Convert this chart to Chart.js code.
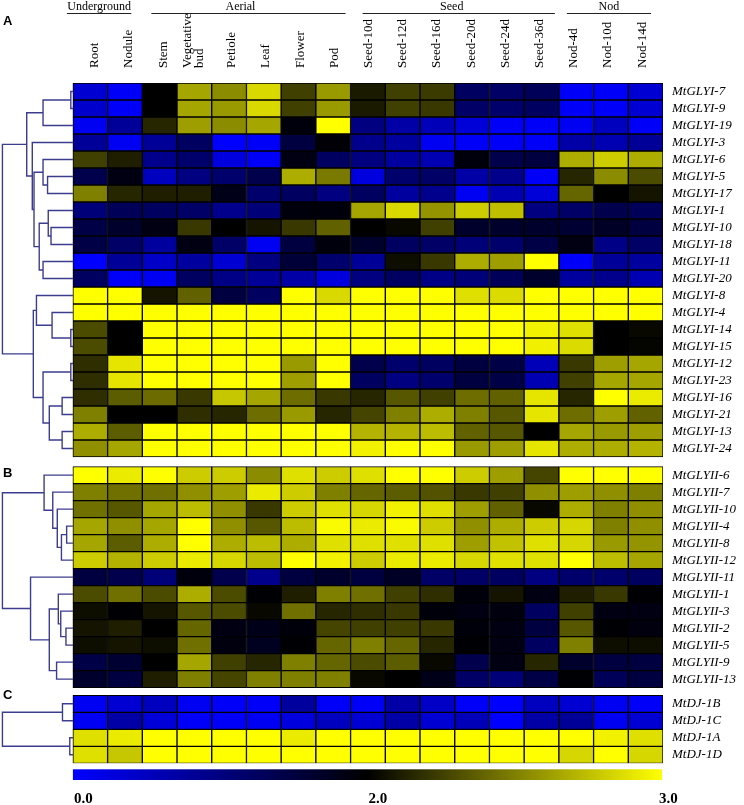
<!DOCTYPE html>
<html>
<head>
<meta charset="utf-8">
<script src="https://cdn.jsdelivr.net/npm/chart.js@4.4.0/dist/chart.umd.min.js"></script>
<style>
  body { margin: 0; background: #fff; }
  #wrap { width: 744px; height: 805px; }
</style>
</head>
<body>
<div id="wrap"><canvas id="heat" width="744" height="805"></canvas></div>
<script>
// ---- data ----
const tissues = ['Root', 'Nodule', 'Stem', ['Vegetative', 'bud'], 'Petiole', 'Leaf', 'Flower', 'Pod',
  'Seed-10d', 'Seed-12d', 'Seed-16d', 'Seed-20d', 'Seed-24d', 'Seed-36d', 'Nod-4d', 'Nod-10d', 'Nod-14d'];
const tissueGroups = [['Underground', 0, 1], ['Aerial', 2, 7], ['Seed', 8, 13], ['Nod', 14, 16]];

const genesA = ['MtGLYI-7', 'MtGLYI-9', 'MtGLYI-19', 'MtGLYI-3', 'MtGLYI-6', 'MtGLYI-5', 'MtGLYI-17',
  'MtGLYI-1', 'MtGLYI-10', 'MtGLYI-18', 'MtGLYI-11', 'MtGLYI-20', 'MtGLYI-8', 'MtGLYI-4', 'MtGLYI-14',
  'MtGLYI-15', 'MtGLYI-12', 'MtGLYI-23', 'MtGLYI-16', 'MtGLYI-21', 'MtGLYI-13', 'MtGLYI-24'];
const valuesA = [
  [0.35, 0.05, 2.0, 2.65, 2.55, 2.85, 2.25, 2.6, 2.1, 2.25, 2.23, 1.25, 1.2, 1.3, 0.05, 0.05, 0.35],
  [0.4, 0.05, 2.0, 2.65, 2.6, 2.85, 2.25, 2.6, 2.1, 2.25, 2.22, 1.2, 1.15, 1.25, 0.05, 0.05, 0.35],
  [0.1, 0.8, 2.15, 2.62, 2.55, 2.65, 1.9, 3.0, 1.0, 0.7, 0.55, 0.3, 0.05, 0.05, 0.1, 0.5, 0.05],
  [0.8, 0.1, 0.8, 1.25, 0.0, 0.05, 1.5, 1.95, 0.9, 0.75, 0.1, 0.05, 0.05, 0.05, 0.7, 0.6, 0.8],
  [2.25, 2.12, 0.9, 1.15, 0.25, 0.05, 1.85, 1.25, 1.0, 0.75, 0.6, 1.9, 1.4, 1.5, 2.68, 2.8, 2.68],
  [1.4, 1.85, 0.5, 1.0, 1.15, 1.4, 2.68, 2.48, 0.25, 1.15, 1.2, 0.7, 0.9, 0.05, 2.15, 2.55, 2.3],
  [2.5, 2.15, 2.12, 2.12, 1.8, 1.15, 1.25, 1.0, 1.25, 0.75, 0.9, 0.1, 0.6, 0.3, 2.4, 2.0, 2.08],
  [1.05, 1.3, 1.25, 1.2, 0.9, 1.05, 1.9, 1.9, 2.65, 2.85, 2.58, 2.8, 2.75, 1.0, 1.2, 1.4, 1.3],
  [1.45, 1.65, 1.85, 2.22, 2.0, 2.08, 2.22, 2.38, 2.0, 2.03, 2.25, 1.65, 1.65, 1.65, 1.6, 1.7, 1.5],
  [1.45, 1.2, 0.75, 1.85, 1.2, 0.1, 1.5, 1.9, 1.65, 1.25, 1.2, 1.05, 1.15, 1.45, 1.85, 0.95, 1.2],
  [0.0, 0.8, 0.45, 0.75, 0.35, 1.0, 1.55, 1.15, 0.8, 2.05, 2.22, 2.68, 2.62, 3.0, 0.05, 0.8, 0.75],
  [1.25, 0.05, 0.1, 1.25, 0.95, 0.8, 0.7, 0.25, 1.0, 1.25, 0.95, 1.05, 1.3, 1.65, 0.75, 0.9, 0.6],
  [3.0, 3.0, 2.08, 2.38, 1.5, 1.25, 3.0, 2.85, 3.0, 3.0, 3.0, 2.88, 2.86, 3.0, 3.0, 3.0, 3.0],
  [3.0, 3.0, 3.0, 3.0, 3.0, 3.0, 3.0, 3.0, 3.0, 3.0, 3.0, 3.0, 3.0, 3.0, 3.0, 3.0, 3.0],
  [2.3, 2.0, 3.0, 3.0, 3.0, 3.0, 3.0, 3.0, 3.0, 3.0, 3.0, 3.0, 3.0, 2.95, 2.88, 2.0, 2.03],
  [2.3, 2.0, 3.0, 3.0, 3.0, 3.0, 3.0, 3.0, 3.0, 3.0, 3.0, 3.0, 3.0, 2.94, 2.86, 2.0, 2.02],
  [2.18, 2.9, 3.0, 3.0, 3.0, 3.0, 2.6, 3.0, 1.4, 1.15, 1.25, 1.5, 1.45, 0.55, 2.22, 2.62, 2.65],
  [2.18, 2.9, 3.0, 3.0, 3.0, 3.0, 2.62, 3.0, 1.25, 1.0, 1.15, 1.5, 1.45, 0.6, 2.25, 2.65, 2.65],
  [2.18, 2.36, 2.42, 2.22, 2.78, 2.65, 2.43, 2.22, 2.15, 2.34, 2.25, 2.43, 2.38, 2.9, 2.15, 3.0, 2.92],
  [2.5, 2.0, 2.0, 2.18, 2.15, 2.43, 2.6, 2.15, 2.27, 2.5, 2.68, 2.5, 2.34, 2.9, 2.43, 2.62, 2.38],
  [2.68, 2.36, 3.0, 3.0, 3.0, 3.0, 3.0, 3.0, 2.7, 2.7, 2.74, 2.38, 2.34, 2.0, 2.65, 2.6, 2.62],
  [2.56, 2.65, 3.0, 3.0, 3.0, 3.0, 3.0, 3.0, 2.95, 3.0, 3.0, 2.6, 2.62, 2.9, 2.68, 2.68, 2.7]
];

const genesB = ['MtGLYII-6', 'MtGLYII-7', 'MtGLYII-10', 'MtGLYII-4', 'MtGLYII-8', 'MtGLYII-12',
  'MtGLYII-11', 'MtGLYII-1', 'MtGLYII-3', 'MtGLYII-2', 'MtGLYII-5', 'MtGLYII-9', 'MtGLYII-13'];
const valuesB = [
  [3.0, 2.92, 3.0, 2.8, 2.8, 2.55, 2.88, 2.8, 2.88, 3.0, 3.0, 2.8, 2.62, 2.27, 3.0, 3.0, 3.0],
  [2.5, 2.44, 2.44, 2.56, 2.62, 2.92, 2.8, 2.5, 2.4, 2.36, 2.32, 2.22, 2.25, 2.56, 2.62, 2.56, 2.5],
  [2.44, 2.34, 2.65, 2.74, 2.56, 2.22, 2.8, 2.88, 2.84, 2.95, 2.88, 2.62, 2.38, 2.03, 2.68, 2.5, 2.56],
  [2.65, 2.56, 2.65, 3.0, 2.56, 2.34, 2.74, 2.98, 2.92, 2.98, 2.8, 2.56, 2.68, 2.8, 2.84, 2.5, 2.56],
  [2.65, 2.36, 2.68, 3.0, 2.68, 2.74, 2.68, 2.88, 2.88, 2.88, 2.88, 2.62, 2.76, 2.88, 2.84, 2.6, 2.58],
  [2.8, 2.7, 2.8, 2.92, 2.84, 2.74, 3.0, 2.95, 2.8, 2.92, 2.92, 2.84, 2.88, 2.88, 3.0, 2.74, 2.65],
  [1.5, 1.4, 1.05, 1.9, 1.4, 0.9, 1.5, 1.65, 1.5, 1.7, 1.2, 1.2, 1.25, 1.0, 1.15, 1.15, 1.25],
  [2.3, 2.44, 2.3, 2.68, 2.3, 1.97, 2.12, 2.5, 2.44, 2.25, 2.18, 1.92, 2.08, 1.85, 2.12, 2.22, 1.97],
  [2.05, 1.97, 2.08, 2.34, 2.3, 2.03, 2.44, 2.15, 2.18, 2.22, 1.92, 1.85, 1.88, 1.25, 2.25, 1.85, 1.85],
  [2.08, 2.12, 2.0, 2.4, 1.85, 1.8, 1.92, 2.27, 2.25, 2.25, 2.22, 1.92, 1.85, 1.5, 2.34, 1.97, 1.88],
  [2.05, 2.08, 2.05, 2.44, 1.88, 1.75, 1.97, 2.4, 2.5, 2.4, 2.15, 1.97, 1.85, 1.25, 2.5, 2.05, 2.05],
  [1.45, 1.6, 2.0, 2.65, 2.25, 2.15, 2.5, 2.4, 2.3, 2.36, 2.03, 1.4, 1.85, 2.15, 1.65, 1.5, 1.5],
  [1.65, 1.5, 2.12, 2.5, 2.27, 2.5, 2.5, 2.5, 2.03, 2.0, 1.8, 1.2, 1.05, 1.45, 1.97, 1.3, 1.5]
];

const genesC = ['MtDJ-1B', 'MtDJ-1C', 'MtDJ-1A', 'MtDJ-1D'];
const valuesC = [
  [0.1, 0.35, 0.5, 0.1, 0.05, 0.05, 0.75, 0.05, 0.05, 0.7, 0.45, 0.05, 0.0, 0.5, 0.35, 0.1, 0.05],
  [0.1, 0.7, 0.3, 0.05, 0.05, 0.1, 0.25, 0.5, 0.35, 0.7, 0.35, 0.55, 0.0, 0.7, 0.8, 0.1, 0.35],
  [2.88, 2.92, 3.0, 3.0, 3.0, 3.0, 2.92, 3.0, 3.0, 3.0, 3.0, 3.0, 3.0, 3.0, 3.0, 2.95, 2.88],
  [2.88, 2.78, 3.0, 3.0, 3.0, 3.0, 3.0, 3.0, 3.0, 3.0, 3.0, 3.0, 3.0, 3.0, 2.84, 3.0, 2.84]
];

// dendrograms: [left, right, mergeHeight], leaves are gene names
const treeA = [
  [[['MtGLYI-7', 'MtGLYI-9', 0.06], 'MtGLYI-19', 0.86],
   ['MtGLYI-3',
    [['MtGLYI-6', ['MtGLYI-5', 'MtGLYI-17', 0.73], 0.86],
     [['MtGLYI-1', ['MtGLYI-10', 'MtGLYI-18', 0.63], 0.71], ['MtGLYI-11', 'MtGLYI-20', 0.86], 0.97],
     1.12],
    1.17],
   1.33],
  [['MtGLYI-8', ['MtGLYI-4', ['MtGLYI-14', 'MtGLYI-15', 0.06], 0.6], 1.05],
   [['MtGLYI-12', 'MtGLYI-23', 0.06],
    [['MtGLYI-16', 'MtGLYI-21', 0.31], ['MtGLYI-13', 'MtGLYI-24', 0.31], 0.68], 0.86],
   1.14],
  2.03];
const treeB = [
  ['MtGLYII-6', ['MtGLYII-7', ['MtGLYII-10', [['MtGLYII-4', 'MtGLYII-8', 0.18], 'MtGLYII-12', 0.33], 0.45], 0.58], 0.83],
  ['MtGLYII-11', [['MtGLYII-1', ['MtGLYII-3', ['MtGLYII-2', 'MtGLYII-5', 0.2], 0.35], 0.42],
    ['MtGLYII-9', 'MtGLYII-13', 0.47], 0.68], 1.22],
  2.03];
const treeC = [['MtDJ-1B', 'MtDJ-1C', 0.3], ['MtDJ-1A', 'MtDJ-1D', 0.09], 2.03];

// colour scale: value stops and their tick labels
const scaleStops = [0, 2, 3];
const scaleTicks = ['0.0', '2.0', '3.0'];

// ---- layout ----
const panels = [
  { letter: 'A', genes: genesA, values: valuesA, tree: treeA },
  { letter: 'B', genes: genesB, values: valuesB, tree: treeB },
  { letter: 'C', genes: genesC, values: valuesC, tree: treeC }
];
const PANEL_GAP = [0, 0.57, 0.45];          // in row units
const PANEL_LETTER_Y = [25, 477, 699];
const DENDRO_SPAN = 2.1;                    // distance units shown left of cells
const GROUP_INSET = [[-6, -11], [9, -5], [12, -4], [8, -12]];
const GROUP_TEXT_DX = [0, -8, -7, 0];
const SERIF = '"Liberation Serif", "Times New Roman", serif';

function heatColor(v) {
  if (v <= 2) {
    const b = Math.round(255 * (1 - v / 2));
    return `rgb(0,0,${b})`;
  }
  const c = Math.round(255 * Math.min(1, v - 2));
  return `rgb(${c},${c},0)`;
}

const rowTop = {};
let cursor = 0;
panels.forEach((p, i) => {
  cursor += PANEL_GAP[i];
  p.top = cursor;
  p.genes.forEach((g, r) => { rowTop[g] = cursor + r; });
  cursor += p.genes.length;
});
const yMax = cursor;

const datasets = [];
panels.forEach(p => {
  p.values.forEach((row, r) => {
    datasets.push({
      type: 'bar',
      label: p.genes[r],
      data: row.map((v, c) => ({ x: c + 0.5, y: [p.top + r, p.top + r + 1] })),
      backgroundColor: row.map(heatColor),
      borderColor: '#000',
      borderWidth: 1,
      borderSkipped: false,
      grouped: false,
      barPercentage: 1,
      categoryPercentage: 1
    });
  });
});

function walk(node, links) {
  if (typeof node === 'string') return { y: rowTop[node] + 0.5, h: 0 };
  const a = walk(node[0], links);
  const b = walk(node[1], links);
  const h = node[2];
  links.push([{ x: -a.h, y: a.y }, { x: -h, y: a.y }, { x: -h, y: b.y }, { x: -b.h, y: b.y }]);
  return { y: (a.y + b.y) / 2, h };
}
panels.forEach(p => {
  const links = [];
  walk(p.tree, links);
  links.forEach(l => datasets.push({
    type: 'line',
    data: l,
    borderColor: '#3d3d8f',
    borderWidth: 1.4,
    pointRadius: 0,
    fill: false,
    tension: 0
  }));
});

const textPlugin = {
  id: 'heatText',
  afterDraw(chart) {
    const { ctx, chartArea } = chart;
    const x = chart.scales.x, y = chart.scales.y;
    ctx.save();
    ctx.fillStyle = '#000';

    // group headers
    ctx.font = '12px ' + SERIF;
    ctx.textAlign = 'center';
    ctx.textBaseline = 'alphabetic';
    ctx.strokeStyle = '#222';
    ctx.lineWidth = 1;
    tissueGroups.forEach(([name, c0, c1], i) => {
      const x0 = x.getPixelForValue(c0) + GROUP_INSET[i][0];
      const x1 = x.getPixelForValue(c1 + 1) + GROUP_INSET[i][1];
      ctx.beginPath();
      ctx.moveTo(x0, 13.5);
      ctx.lineTo(x1, 13.5);
      ctx.stroke();
      ctx.fillText(name, (x0 + x1) / 2 + GROUP_TEXT_DX[i], 10);
    });

    // tissue labels, rotated
    ctx.font = '13px ' + SERIF;
    ctx.textAlign = 'left';
    ctx.textBaseline = 'middle';
    tissues.forEach((t, i) => {
      const cx = x.getPixelForValue(i + 0.5) + 4.6 - 0.5 * i;
      const lines = Array.isArray(t) ? t : [t];
      ctx.save();
      ctx.translate(cx, 68);
      ctx.rotate(-Math.PI / 2);
      lines.forEach((s, k) => {
        const off = lines.length > 1 ? (k - 0.5) * 12 - 4 : 0;
        ctx.fillText(s, 0, off);
      });
      ctx.restore();
    });

    // gene labels
    ctx.font = 'italic 13px ' + SERIF;
    ctx.textAlign = 'left';
    ctx.textBaseline = 'middle';
    panels.forEach(p => p.genes.forEach(g => {
      ctx.fillText(g, chartArea.right + 9, y.getPixelForValue(rowTop[g] + 0.5));
    }));

    // panel letters
    ctx.font = 'bold 13px "Liberation Sans", Arial, sans-serif';
    ctx.textBaseline = 'alphabetic';
    panels.forEach((p, i) => ctx.fillText(p.letter, 3, PANEL_LETTER_Y[i]));

    // colour bar
    const bx0 = x.getPixelForValue(0);
    const bx1 = x.getPixelForValue(tissues.length) - 1;
    const by = chartArea.bottom + 6;
    const grad = ctx.createLinearGradient(bx0, 0, bx1, 0);
    scaleStops.forEach((v, i) => grad.addColorStop(i / (scaleStops.length - 1), heatColor(v)));
    ctx.fillStyle = grad;
    ctx.fillRect(bx0, by, bx1 - bx0, 10.7);
    ctx.fillStyle = '#000';
    ctx.font = 'bold 15px ' + SERIF;
    ctx.textAlign = 'left';
    scaleTicks.forEach((lab, i) => {
      const px = bx0 + (bx1 - bx0) * i / (scaleTicks.length - 1);
      ctx.fillText(lab, Math.min(px + 1, bx1 - 3), 803);
    });
    ctx.restore();
  }
};

new Chart(document.getElementById('heat'), {
  type: 'bar',
  data: { datasets },
  options: {
    responsive: false,
    animation: false,
    devicePixelRatio: 1,
    layout: { padding: { left: 0, right: 81, top: 83, bottom: 41.7 } },
    plugins: { legend: { display: false }, tooltip: { enabled: false } },
    scales: {
      x: { type: 'linear', min: -DENDRO_SPAN, max: tissues.length, offset: false, display: false },
      y: { type: 'linear', reverse: true, min: 0, max: yMax, display: false }
    }
  },
  plugins: [textPlugin]
});
</script>
</body>
</html>
